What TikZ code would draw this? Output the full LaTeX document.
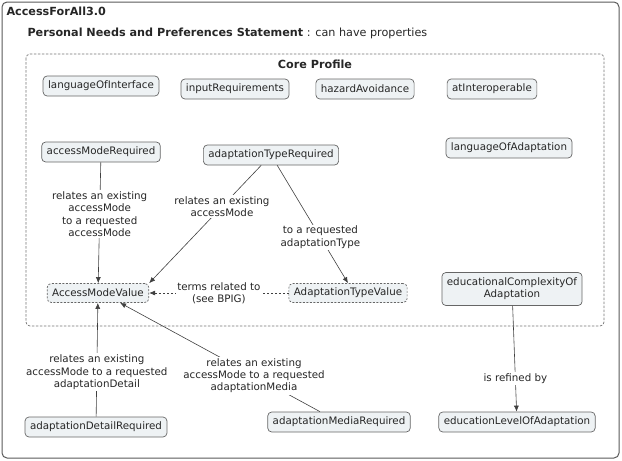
\documentclass[tikz,border=0pt]{standalone}
\usepackage{fontspec}
\setmainfont{DejaVu Sans}
\usetikzlibrary{arrows.meta}
\definecolor{boxfill}{HTML}{EEF2F4}
\definecolor{boxline}{HTML}{666666}
\definecolor{linkline}{HTML}{404040}

\begin{document}
\begin{tikzpicture}[
    x=1pt, y=-1pt,
    every node/.style={font=\fontsize{10.3}{12.3}\selectfont, text=black!85},
    concept/.style={draw=boxline, fill=boxfill, rounded corners=4pt, inner xsep=5pt, minimum height=20pt, line width=0.7pt},
    valuebox/.style={concept, dash pattern=on 2pt off 1.5pt, minimum height=19pt},
    link/.style={draw=linkline, line width=0.6pt},
    arrow/.style={-{Latex[length=6pt, width=5pt]}, link},
    linklabel/.style={fill=white, align=center, inner sep=1.5pt},
    heading/.style={font=\fontsize{11.2}{13}\selectfont}
]
\useasboundingbox (0,0) rectangle (622,461);

% Frames
\draw[draw=black!65, line width=1pt, rounded corners=5pt] (2,2) rectangle (619,458);
\draw[draw=black!55, dash pattern=on 2.5pt off 1.5pt, line width=0.7pt, rounded corners=4pt] (26,54) rectangle (604,326);

% Headings
\node[heading, anchor=west] (title) at (3,11) {\textbf{AccessForAll3.0}};
\node[heading, anchor=west] (statement) at (24,33) {\textbf{Personal Needs and Preferences Statement} : can have properties};
\node[heading] (core) at (315,64) {\textbf{Core Profile}};

% Concepts using a loop
\foreach \name/\x/\y/\txt in {
    loi/101/86/languageOfInterface,
    inreq/235/89/inputRequirements,
    hazard/365/89/hazardAvoidance,
    atinter/492/89/atInteroperable,
    amr/101/152/accessModeRequired,
    atr/271/155/adaptationTypeRequired,
    loa/509/148/languageOfAdaptation,
    adr/96/427/adaptationDetailRequired,
    amedr/339/422/adaptationMediaRequired,
    ela/517/422/educationLevelOfAdaptation} {
    \node[concept] (\name) at (\x,\y) {\txt};
}
\node[concept, align=center, minimum height=33pt] (ecoa) at (512,289) {educationalComplexityOf\\Adaptation};

% Value vocabularies
\node[valuebox] (amv) at (98,293) {AccessModeValue};
\node[valuebox] (atv) at (348,293) {AdaptationTypeValue};

% Links
\draw[arrow] (amr) -- node[linklabel, pos=0.43] {relates an existing\\accessMode\\to a requested\\accessMode} (amv);
\draw[arrow] (atr) -- node[linklabel, pos=0.35] {relates an existing\\accessMode} (amv.north east);
\draw[arrow] (atr) -- node[linklabel, pos=0.61] {to a requested\\adaptationType} (atv.north);
\draw[arrow, dash pattern=on 2pt off 2pt] (atv) -- node[linklabel, pos=0.5] {terms related to\\(see BPIG)} (amv);
\draw[arrow] (adr) -- node[linklabel, pos=0.39] {relates an existing\\accessMode to a requested\\adaptationDetail} (amv);
\draw[arrow] (amedr) -- node[linklabel, pos=0.33] {relates an existing\\accessMode to a requested\\adaptationMedia} (amv.-24);
\draw[arrow] (ecoa) -- node[linklabel, pos=0.69] {is refined by} (ela);

\end{tikzpicture}
\end{document}
